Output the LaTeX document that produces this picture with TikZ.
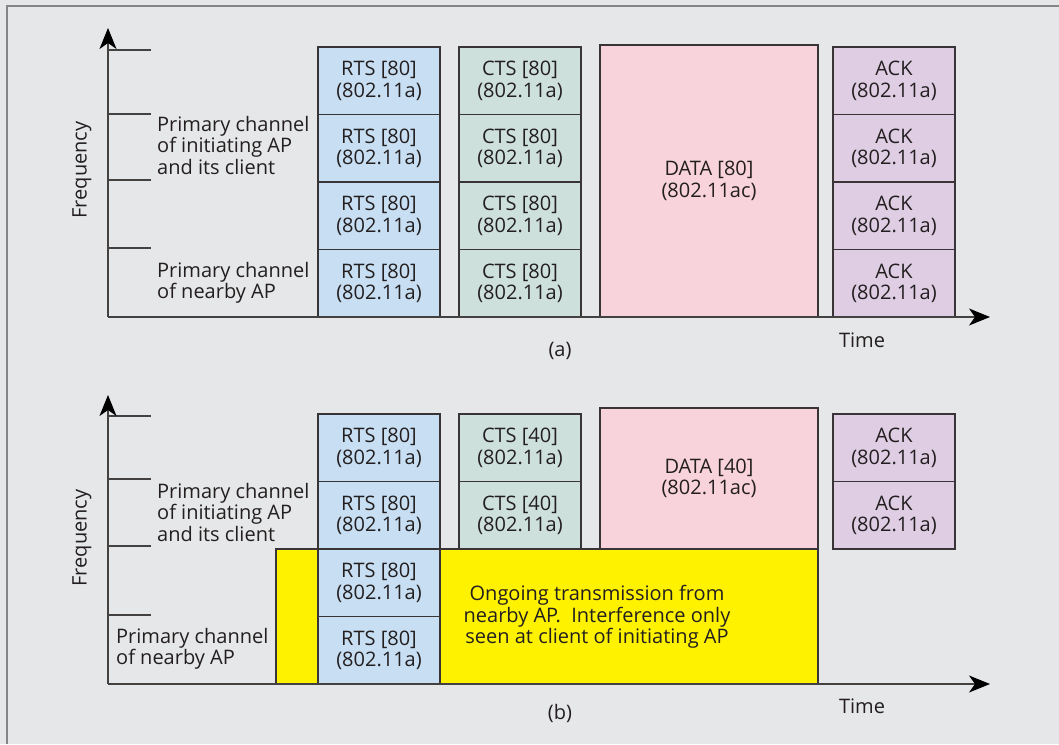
\documentclass[tikz,border=0pt]{standalone}
\usepackage{fontspec}
\setmainfont{Open Sans}
\usetikzlibrary{arrows.meta}
\definecolor{bg}{HTML}{E6E7E8}
\definecolor{rtsc}{HTML}{C8DFF3}
\definecolor{ctsc}{HTML}{CEE0DC}
\definecolor{datac}{HTML}{F8D3DB}
\definecolor{ackc}{HTML}{DFCDE3}
\definecolor{yel}{HTML}{FFF200}
\definecolor{ink}{HTML}{231F20}
\definecolor{framec}{HTML}{858585}
\tikzset{
  every node/.style={text=ink, font=\fontsize{20}{21.5}\selectfont, inner sep=0pt},
  box/.style={draw=ink!90, line width=1.1pt, align=center, minimum width=122pt, minimum height=67.5pt},
  rtsbox/.style={box, fill=rtsc},
  ctsbox/.style={box, fill=ctsc},
  ackbox/.style={box, fill=ackc},
  databox/.style={box, fill=datac, minimum width=218pt},
  axis/.style={draw=ink!85, line width=1.3pt, -{Stealth[length=21pt,width=17pt,inset=6pt,color=black]}},
  tick/.style={draw=ink!85, line width=1.1pt},
  lbl/.style={align=left, anchor=north west},
}
\begin{document}
\begin{tikzpicture}[x=1pt,y=-1pt]
\fill[bg] (0,0) rectangle (1059,744);
\useasboundingbox (0,0) rectangle (1059,744);
\draw[framec, line width=2pt] (6.5,744) -- (6.5,5.5) -- (1059,5.5);

% ---------------- panel (a) ----------------
\coordinate (aO) at (108,317);
\coordinate (aY) at (108,28);
\coordinate (aX) at (990,317);
\foreach \y/\n in {50/1,114/2,180/3,248/4} {
  \coordinate (at\n a) at (108,\y);
  \coordinate (at\n b) at (151,\y);
  \draw[tick] (at\n a) -- (at\n b);
}
\foreach \i/\y in {1/80.75,2/148.25,3/215.75,4/283.25} {
  \node[rtsbox] (ar\i) at (379,\y) {RTS [80]\\(802.11a)};
  \node[ctsbox] (ac\i) at (520,\y) {CTS [80]\\(802.11a)};
  \node[ackbox] (ak\i) at (894,\y) {ACK\\(802.11a)};
}
\node[databox, minimum height=272pt] (ad) at (709,181) {DATA [80]\\(802.11ac)};
\draw[axis] (aO) -- (aY);
\draw[axis] (aO) -- (aX);
\node[rotate=90] (afreq) at (82,170) {Frequency};
\node[lbl] (al1) at (157,116) {Primary channel\\of initiating AP\\and its client};
\node[lbl] (al2) at (157,262) {Primary channel\\of nearby AP};
\node (atime) at (862,340) {Time};
\node (acap) at (560,351) {(a)};

% ---------------- panel (b) ----------------
\coordinate (bO) at (108,684);
\coordinate (bY) at (108,395);
\coordinate (bX) at (990,684);
\foreach \y/\n in {416/1,479/2,546/3,615/4} {
  \coordinate (bt\n a) at (108,\y);
  \coordinate (bt\n b) at (151,\y);
  \draw[tick] (bt\n a) -- (bt\n b);
}
\node[box, fill=yel, minimum width=542pt, minimum height=135pt] (byel) at (547,616.5) {};
\foreach \i/\y in {1/447.75,2/515.25,3/582.75,4/650.25} {
  \node[rtsbox] (br\i) at (379,\y) {RTS [80]\\(802.11a)};
}
\foreach \i/\y in {1/447.75,2/515.25} {
  \node[ctsbox] (bc\i) at (520,\y) {CTS [40]\\(802.11a)};
  \node[ackbox] (bk\i) at (894,\y) {ACK\\(802.11a)};
}
\node[databox, minimum height=141pt] (bd) at (709,478.5) {DATA [40]\\(802.11ac)};
\node[align=center] (btxt) at (597,617) {Ongoing transmission from\\nearby AP.\ \ Interference only\\seen at client of initiating AP};
\draw[axis] (bO) -- (bY);
\draw[axis] (bO) -- (bX);
\node[rotate=90] (bfreq) at (82,538) {Frequency};
\node[lbl] (bl1) at (157,483) {Primary channel\\of initiating AP\\and its client};
\node[lbl] (bl2) at (116,628) {Primary channel\\of nearby AP};
\node (btime) at (862,706) {Time};
\node (bcap) at (560,713) {(b)};
\end{tikzpicture}
\end{document}
